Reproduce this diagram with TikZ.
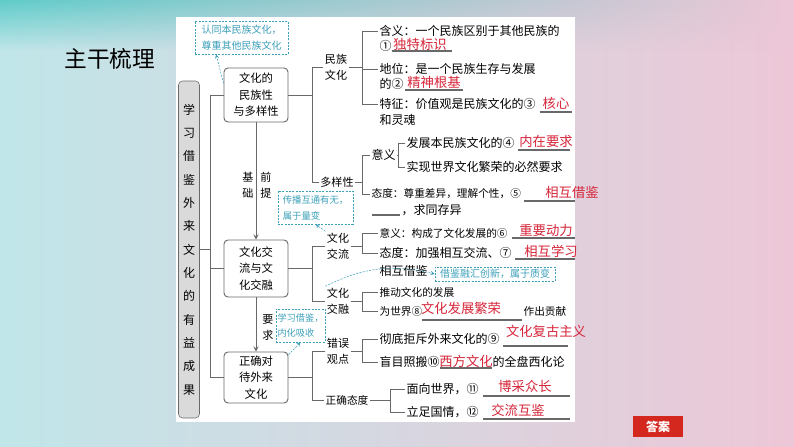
\documentclass[tikz,border=0pt]{standalone}
\usepackage{fontspec}
\setmainfont{Noto Sans CJK SC}
\usetikzlibrary{fadings}
\definecolor{linegray}{RGB}{105,105,105}
\definecolor{ansred}{RGB}{214,38,58}
\definecolor{calteal}{RGB}{60,160,185}
\definecolor{rootgray}{RGB}{218,218,218}
\definecolor{bgteal}{RGB}{96,204,202}
\definecolor{bgcyan}{RGB}{192,230,233}
\definecolor{bgpink}{RGB}{237,199,215}
\definecolor{bglav}{RGB}{224,214,230}
\definecolor{btnred}{RGB}{212,40,30}
\tikzset{
  topic/.style={draw=linegray, line width=0.7pt, rounded corners=3pt, fill=white, align=center,
    minimum width=48pt, inner sep=1pt, font=\fontsize{8.5}{12.4}\selectfont},
  lab/.style={align=center, inner sep=1pt, font=\fontsize{8.3}{12}\selectfont},
  txt/.style={anchor=west, inner sep=1pt, font=\fontsize{9}{11}\selectfont},
  narrow/.style={font=\fontsize{8}{10}\selectfont},
  ans/.style={text=ansred, inner sep=0pt, font=\fontsize{10}{12}\selectfont},
  tipbox/.style={draw=calteal, dash pattern=on 1.5pt off 1pt, text=calteal, align=left,
    inner sep=1.5pt, fill=white, font=\fontsize{7}{12}\selectfont},
  tiplink/.style={calteal, dash pattern=on 1.5pt off 1pt, ->, >=stealth},
  conn/.style={linegray, line width=0.7pt},
  blank/.style={linegray, line width=0.8pt},
}
\begin{document}
\begin{tikzpicture}[x=0.75pt,y=-0.75pt]
\useasboundingbox (0,0) rectangle (794,447);
% background
\shade[left color=bgcyan, middle color=bglav, right color=bgpink] (0,0) rectangle (794,447);
\shade[left color=bgteal, right color=bgpink, path fading=south] (0,0) rectangle (794,50);
\fill[white] (176,17) rectangle (575,422);
\node[font=\fontsize{17}{20}\selectfont] (title) at (110,59) {主干梳理};

% left column
\node[draw=linegray, fill=rootgray, rounded corners=3pt, minimum width=15.75pt, minimum height=252.75pt,
  inner sep=0pt, align=center, font=\fontsize{9}{17.5}\selectfont] (root) at (189,249.5)
  {学\\习\\借\\鉴\\外\\来\\文\\化\\的\\有\\益\\成\\果};
\node[topic, minimum height=40.5pt] (minzu) at (256,95) {文化的\\民族性\\与多样性};
\node[topic, minimum height=42.75pt] (jiaoliu) at (256,268.5) {文化交\\流与文\\化交融};
\node[topic, minimum height=38.25pt] (zhengque) at (256,377.5) {正确对\\待外来\\文化};
\coordinate (lbus) at (210,0);
\draw[conn] (root.east) -- (root.east -| lbus);
\draw[conn] (minzu.west) -| (lbus |- zhengque.west) -- (zhengque.west);
\draw[conn] (jiaoliu.west) -- (jiaoliu.west -| lbus);
\draw[conn,->,>=stealth] (minzu) -- (jiaoliu);
\draw[conn,->,>=stealth] (jiaoliu) -- (zhengque);
\node[lab] (jichu) at (248,185) {基\\础};
\node[lab] (qianti) at (266,185) {前\\提};
\node[lab] (yaoqiu) at (268,328) {要\\求};

% middle labels
\coordinate (mbus) at (312,0);
\node[lab] (mzwh) at (336,67) {民族\\文化};
\node[lab] (dyx) at (337,182) {多样性};
\node[lab] (wjl) at (338,246) {文化\\交流};
\node[lab] (wjr) at (338,301) {文化\\交融};
\node[lab] (cwgd) at (338,351) {错误\\观点};
\node[lab, font=\fontsize{8}{10}\selectfont] (zqtd) at (347,400) {正确态度};
\draw[conn] (minzu.east) -- (minzu.east -| mbus);
\draw[conn] (mzwh.west) -| (mbus |- dyx.west) -- (dyx.west);
\draw[conn] (jiaoliu.east) -- (jiaoliu.east -| mbus);
\draw[conn] (wjl.west) -| (mbus |- wjr.west) -- (wjr.west);
\draw[conn] (zhengque.east) -- (zhengque.east -| mbus);
\draw[conn] (cwgd.west) -| (mbus |- zqtd.west) -- (zqtd.west);

% right texts
\coordinate (k1) at (362,0);
\coordinate (k2) at (398,0);
\coordinate (k3) at (390,0);
\node[txt] (hanyi) at (378,31) {含义：一个民族区别于其他民族的};
\node[txt] (hanyi2) at (378,46) {①};
\node[ans] (a1) at (420,44) {独特标识};
\node[txt] (diwei) at (378,69) {地位：是一个民族生存与发展};
\node[txt] (diwei2) at (378,84) {的②};
\node[ans] (a2) at (434,82) {精神根基};
\node[txt] (tezheng) at (378,104) {特征：价值观是民族文化的③};
\node[ans] (a3) at (556,103) {核心};
\node[txt] (tezheng2) at (378,120) {和灵魂};
\draw[conn] (mzwh.east) -- (mzwh.east -| k1);
\draw[conn] (hanyi.west) -| (k1 |- tezheng.west) -- (tezheng.west);
\draw[conn] (diwei.west) -- (diwei.west -| k1);

\node[txt] (yiyi) at (370,155) {意义};
\node[txt] (fazhan) at (405,143) {发展本民族文化的④};
\node[ans] (a4) at (546,141) {内在要求};
\node[txt] (shixian) at (405,167) {实现世界文化繁荣的必然要求};
\node[txt, narrow] (taidu) at (370,194) {态度：尊重差异，理解个性，⑤};
\node[ans] (a5) at (572,192) {相互借鉴};
\node[txt] (taidu2) at (400,210) {，求同存异};
\draw[conn] (dyx.east) -- (dyx.east -| k1);
\draw[conn] (yiyi.west) -| (k1 |- taidu.west) -- (taidu.west);
\draw[conn] (yiyi.east) -- (yiyi.east -| k2);
\draw[conn] (fazhan.west) -| (k2 |- shixian.west) -- (shixian.west);

\node[txt, narrow] (yiyi2) at (378,233) {意义：构成了文化发展的⑥};
\node[ans] (a6) at (546,230) {重要动力};
\node[txt] (taidu3) at (378,253) {态度：加强相互交流、⑦};
\node[ans] (a7) at (551,251) {相互学习};
\node[txt] (huxiang) at (378,271) {相互借鉴};
\draw[conn] (wjl.east) -- (wjl.east -| k1);
\draw[conn] (yiyi2.west) -| (k1 |- taidu3.west) -- (taidu3.west);

\node[txt, narrow] (tuidong) at (378,292) {推动文化的发展};
\node[txt, narrow] (weishijie) at (378,311) {为世界⑧};
\node[ans] (a8) at (461,308) {文化发展繁荣};
\node[txt, narrow] (gongxian) at (522,311) {作出贡献};
\draw[conn] (wjr.east) -- (wjr.east -| k1);
\draw[conn] (tuidong.west) -| (k1 |- weishijie.west) -- (weishijie.west);

\node[txt] (chedi) at (378,339) {彻底拒斥外来文化的⑨};
\node[ans] (a9) at (546,331) {文化复古主义};
\node[txt] (mangmu) at (378,362) {盲目照搬⑩};
\node[ans] (a10) at (466,361) {西方文化};
\node[txt] (xihua) at (491,362) {的全盘西化论};
\draw[conn] (cwgd.east) -- (cwgd.east -| k1);
\draw[conn] (chedi.west) -| (k1 |- mangmu.west) -- (mangmu.west);

\node[txt] (mianxiang) at (405,389) {面向世界，⑪};
\node[ans] (a11) at (525,386) {博采众长};
\node[txt] (lizu) at (405,412) {立足国情，⑫};
\node[ans] (a12) at (518,410) {交流互鉴};
\draw[conn] (zqtd.east) -- (zqtd.east -| k3);
\draw[conn] (mianxiang.west) -| (k3 |- lizu.west) -- (lizu.west);

% blanks
\foreach \xa/\xb/\y in {392/452/51, 405/463/90, 540/572/112, 518/570/150, 524/575/201, 372/400/215,
  512/575/238, 515/575/259, 422/522/320, 503/568/346, 440/492/368, 483/570/396, 483/570/419}
  \draw[blank] (\xa,\y) -- (\xb,\y);

% notes
\node[tipbox, minimum width=69.75pt, minimum height=24.75pt, font=\fontsize{7.5}{12}\selectfont] (tip1) at (241.5,37.5) {认同本民族文化，\\尊重其他民族文化};
\node[tipbox, minimum width=56.25pt, minimum height=24.75pt] (tip2) at (315.5,207.5) {传播互通有无，\\属于量变};
\node[tipbox, minimum width=36.75pt, minimum height=24.75pt, font=\fontsize{6.9}{11.5}\selectfont, inner sep=0.5pt] (tip3) at (300.5,325.5) {学习借鉴，\\内化吸收};
\node[tipbox, minimum width=90pt, minimum height=10.5pt, inner sep=1pt, font=\fontsize{7.5}{9}\selectfont] (tip4) at (495,274) {借鉴融汇创新，属于质变};
\draw[tiplink] (minzu.160) -- ([xshift=16pt]tip1.south west);
\draw[tiplink] (wjl.north west) -- (tip2.south);
\draw[tiplink] (zhengque.35) -- (tip3.south);
\draw[tiplink] (wjr.north west) to[bend left=20] (tip4.west);

\node[fill=btnred, text=white, font=\bfseries\fontsize{9}{10}\selectfont, minimum width=37.5pt,
  minimum height=15.75pt, inner sep=0pt] (daan) at (658,426.5) {答案};
\end{tikzpicture}
\end{document}
